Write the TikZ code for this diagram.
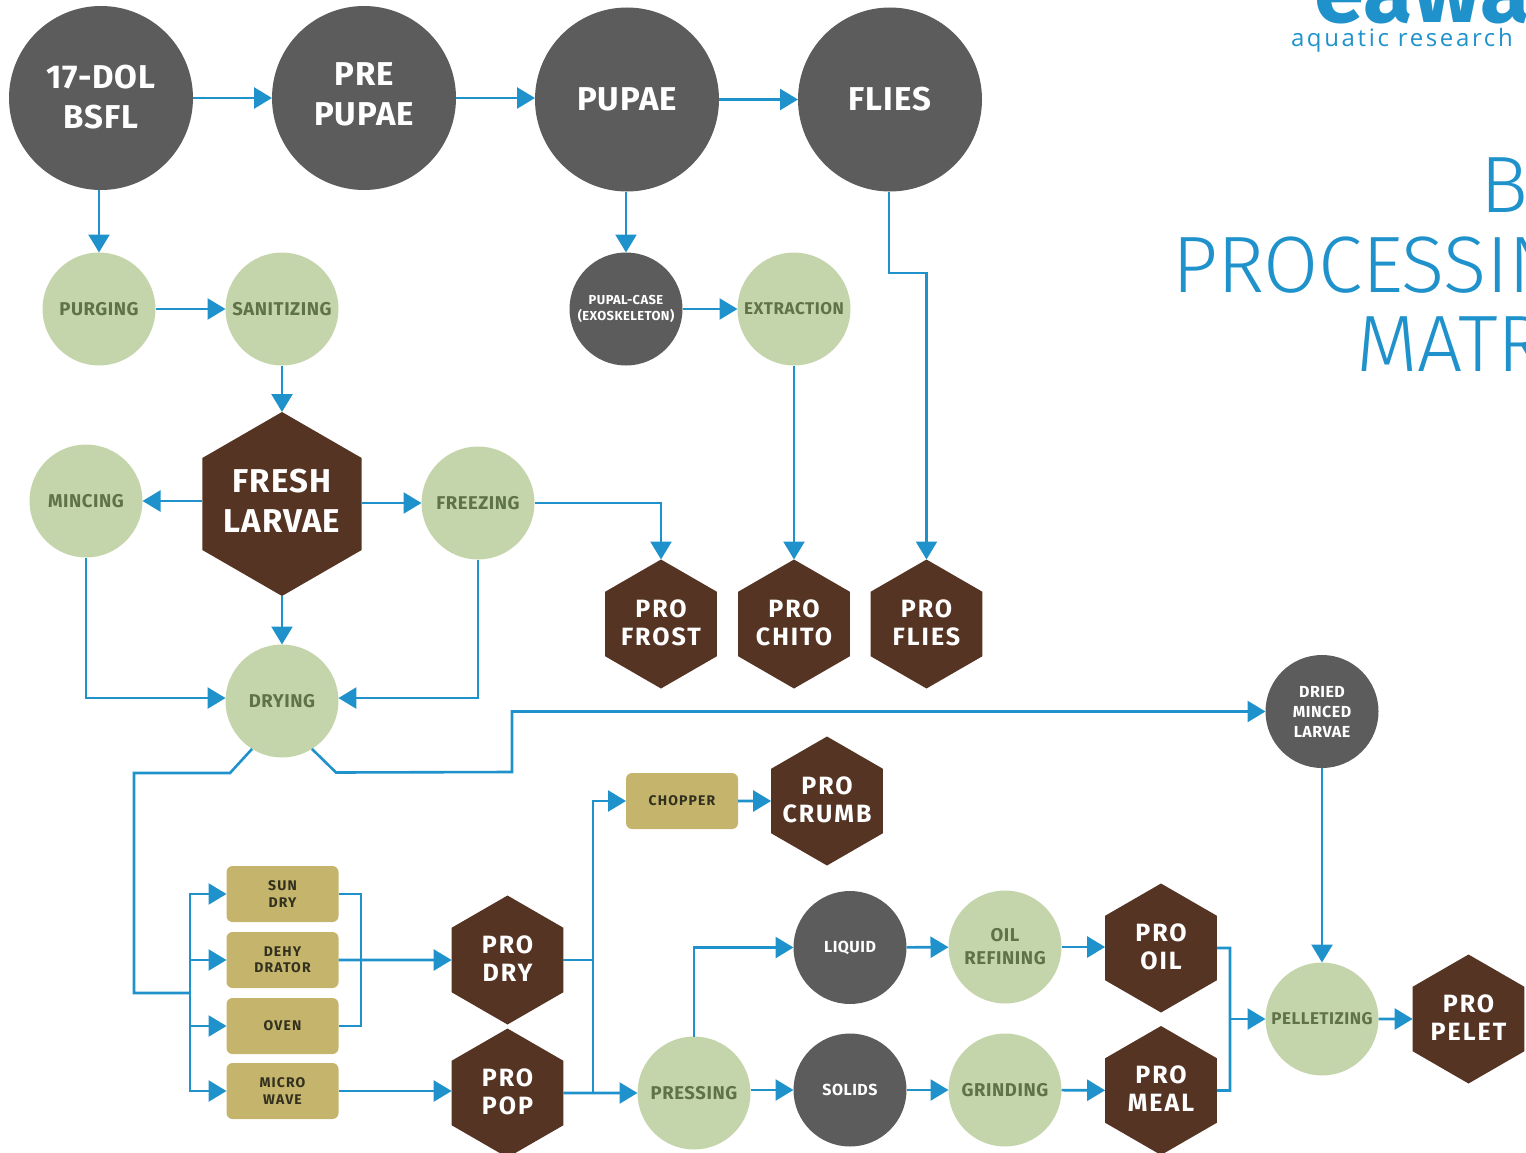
\documentclass[tikz,border=0pt]{standalone}
\usepackage{fontspec}
\usetikzlibrary{arrows.meta,shapes.geometric,calc}
\setmainfont{Fira Sans}
\newfontfamily\dinA[LetterSpace=3]{Fira Sans}
\newfontfamily\dinB[LetterSpace=8]{Fira Sans}
\newfontfamily\titlefont[UprightFont={* Light},LetterSpace=-0.5]{Fira Sans}
\newfontfamily\logofont[LetterSpace=11]{Open Sans}
\newfontfamily\logobig[LetterSpace=1]{Fira Sans}
\newcommand{\hx}[2][-3pt]{\raisebox{#1}{\vbox to 0pt{\vss\hbox to 0pt{\hss\begin{tabular}{@{}c@{}}#2\end{tabular}\hss}\vss}}}
\definecolor{linec}{RGB}{31,146,204}
\definecolor{greenf}{RGB}{197,213,171}
\definecolor{greent}{RGB}{95,115,72}
\definecolor{darkf}{RGB}{92,92,92}
\definecolor{brownf}{RGB}{85,52,36}
\definecolor{tanf}{RGB}{196,180,108}
\definecolor{tant}{RGB}{50,48,30}
\tikzset{
  x=1pt,y=-1pt,
  base/.style={inner sep=0pt,outer sep=0pt,align=center,draw=none},
  bigc/.style={base,align=none,circle,minimum size=184pt,fill=darkf,text=white,font=\dinA\bfseries\fontsize{33}{40}\selectfont},
  gc/.style={base,circle,minimum size=113pt,fill=greenf,text=greent,font=\dinA\bfseries\fontsize{18.5}{23}\selectfont},
  gcs/.style={gc,font=\dinA\bfseries\fontsize{17}{21}\selectfont},
  dc/.style={base,circle,minimum size=113pt,fill=darkf,text=white,font=\dinA\bfseries\fontsize{16}{20}\selectfont},
  hexbase/.style={base,align=none,regular polygon,regular polygon sides=6,shape border rotate=30,fill=brownf,text=white},
  hex/.style={hexbase,minimum size=129pt,font=\dinB\bfseries\fontsize{25}{28}\selectfont},
  bighex/.style={hexbase,minimum size=184pt,font=\dinA\bfseries\fontsize{33}{39.5}\selectfont},
  tanbox/.style={base,rectangle,rounded corners=6pt,minimum width=112pt,minimum height=56pt,fill=tanf,text=tant,font=\dinB\bfseries\fontsize{14}{16.5}\selectfont},
  conn/.style={draw=linec,line width=2.6pt},
  flow/.style={conn,-{Triangle[length=18pt,width=21pt]}},
}
\begin{document}
\begin{tikzpicture}
\useasboundingbox (0,0) rectangle (1526,1153);
\clip (0,0) rectangle (1526,1153);
% top row
\node[bigc] (dol) at (101,98) {\hx[-4.5pt]{17-DOL\\BSFL}};
\node[bigc] (pre) at (364,98) {\hx[1.5pt]{PRE\\PUPAE}};
\node[bigc] (pupae) at (627,99.5) {\hx[-6pt]{PUPAE}};
\node[bigc] (flies) at (890,99.5) {\hx[-6pt]{FLIES}};
% second row
\node[gc] (purging) at (99,309) {PURGING};
\node[gc] (sanit) at (282,309) {SANITIZING};
\node[dc,font=\dinA\bfseries\fontsize{13}{16}\selectfont] (case) at (626,309) {PUPAL-CASE\\(EXOSKELETON)};
\node[gcs] (extract) at (794,309) {EXTRACTION};
% fresh
\node[bighex] (fresh) at (282,504) {\hx[-1.5pt]{FRESH\\LARVAE}};
\node[gc] (mincing) at (86,501) {MINCING};
\node[gc] (freezing) at (478,503) {FREEZING};
\node[hex] (frost) at (661,624) {\hx{PRO\\FROST}};
\node[hex] (chito) at (794,624) {\hx{PRO\\CHITO}};
\node[hex] (pflies) at (926.5,624) {\hx{PRO\\FLIES}};
\node[gc] (drying) at (282,701) {DRYING};
\node[dc] (minced) at (1322,711.5) {DRIED\\MINCED\\LARVAE};
% lower
\node[tanbox] (chopper) at (682,801) {CHOPPER};
\node[hex] (crumb) at (827,801) {\hx{PRO\\CRUMB}};
\node[tanbox] (sun) at (282.5,894) {SUN\\DRY};
\node[tanbox] (dehy) at (282.5,960) {DEHY\\DRATOR};
\node[tanbox] (oven) at (282.5,1026) {OVEN};
\node[tanbox] (micro) at (282.5,1091) {MICRO\\WAVE};
\node[hex] (dry) at (507.5,960) {\hx{PRO\\DRY}};
\node[hex] (pop) at (507.5,1093) {\hx{PRO\\POP}};
\node[gc] (pressing) at (694,1093) {PRESSING};
\node[dc] (liquid) at (850,947.5) {LIQUID};
\node[dc] (solids) at (850,1090) {SOLIDS};
\node[gc] (refining) at (1005,947) {OIL\\REFINING};
\node[gc] (grinding) at (1005,1090) {GRINDING};
\node[hex] (oil) at (1161,948) {\hx{PRO\\OIL}};
\node[hex] (meal) at (1161,1090.5) {\hx{PRO\\MEAL}};
\node[gcs] (pellet) at (1322,1019) {PELLETIZING};
\node[hex] (pelet) at (1468.5,1019) {\hx{PRO\\PELET}};
% title and logo
\node[base,anchor=base west,text=linec,font=\logobig\bfseries\fontsize{90}{90}\selectfont] (logo) at (1314,23) {eawag};
\node[base,anchor=base west,text=linec,font=\logofont\fontsize{24}{24}\selectfont] (logot) at (1291,47) {aquatic research};
\node[base,anchor=base west,text=linec,font=\titlefont\fontsize{80}{80}\selectfont] (t1) at (1480,212) {B};
\node[base,anchor=base west,text=linec,font=\titlefont\fontsize{80}{80}\selectfont] (t2) at (1172,292) {PROCESSIN};
\node[base,anchor=base west,text=linec,font=\titlefont\fontsize{80}{80}\selectfont] (t3) at (1356,371) {MATR};
% connectors
\draw[flow] (dol) -- (pre);
\draw[flow] (pre.east) -- (pupae.west |- pre.east);
\draw[flow] (pupae) -- (flies);
\draw[flow] (purging.north |- dol.south) -- (purging.north);
\draw[flow] (purging) -- (sanit);
\draw[flow] (sanit) -- (fresh.north);
\draw[flow] (case.north |- pupae.south) -- (case.north);
\draw[flow] (case) -- (extract);
\coordinate (fb) at (889,273);
\draw[flow] (fb |- flies.south) -- (fb) -| (pflies.north);
\draw[flow] (extract.south) -- (chito.north);
\draw[flow] (fresh.west |- mincing.east) -- (mincing.east);
\draw[flow] (fresh.east |- freezing.west) -- (freezing.west);
\draw[flow] (freezing.east) -| (frost.north);
\draw[flow] (fresh.south) -- (drying.north);
\draw[flow] (mincing.south) |- (drying.177);
\draw[flow] (freezing.south) |- (drying.3);
\coordinate (jl) at (190,993);
\draw[conn] (drying.238) -- (230,773) -- (134,773) -- (134,993) -- (jl);
\draw[flow] (drying.302) -- (336,772.5) -- (512,772) |- (minced.west);
\draw[flow] (jl) |- (sun.west);
\draw[flow] (jl) |- (dehy.west);
\draw[flow] (jl) |- (oven.west);
\draw[flow] (jl) |- (micro.west);
\draw[conn] (sun.east) -- (361,894) |- (oven.east);
\draw[flow] (dehy.east) -- (dry.west);
\draw[flow] (micro.east) -- (pop.west |- micro.east);
\coordinate (jr) at (593,1093);
\draw[conn] (dry.east) -- (jr |- dry.east);
\draw[flow] (jr) |- (chopper.west);
\draw[flow] (pop.east) -- (pressing.west);
\draw[flow] (chopper) -- (crumb);
\draw[flow] (pressing.north) |- (liquid.west);
\draw[flow] (liquid) -- (refining);
\draw[flow] (refining.east) -- (oil.west |- refining.east);
\draw[flow] (solids) -- (grinding);
\draw[flow] (grinding) -- (meal);
\draw[flow] (pressing.east |- solids.west) -- (solids.west);
\draw[conn] (oil.east) -- (1230,948) |- (meal.east);
\coordinate (jp) at (1230,1019);
\draw[flow] (jp) -- (pellet.west);
\draw[flow] (pellet) -- (pelet);
\draw[flow] (minced.south) -- (pellet.north);
\end{tikzpicture}
\end{document}
